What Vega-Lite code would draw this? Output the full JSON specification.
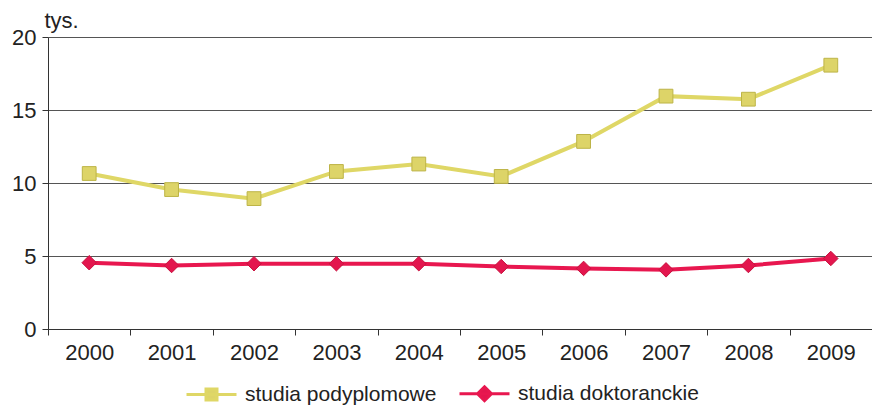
{
  "$schema": "https://vega.github.io/schema/vega-lite/v6.json",
  "width": 824,
  "height": 292,
  "autosize": {"type": "none"},
  "padding": {"left": 48, "top": 37, "right": 0, "bottom": 77},
  "background": "white",
  "config": {"view": {"stroke": null}, "font": "Liberation Sans"},
  "data": {"values": [
    {"year": "2000", "series": "studia podyplomowe", "value": 10.65},
    {"year": "2001", "series": "studia podyplomowe", "value": 9.55},
    {"year": "2002", "series": "studia podyplomowe", "value": 8.93},
    {"year": "2003", "series": "studia podyplomowe", "value": 10.79},
    {"year": "2004", "series": "studia podyplomowe", "value": 11.3},
    {"year": "2005", "series": "studia podyplomowe", "value": 10.45},
    {"year": "2006", "series": "studia podyplomowe", "value": 12.85},
    {"year": "2007", "series": "studia podyplomowe", "value": 15.95},
    {"year": "2008", "series": "studia podyplomowe", "value": 15.74},
    {"year": "2009", "series": "studia podyplomowe", "value": 18.07},
    {"year": "2000", "series": "studia doktoranckie", "value": 4.54},
    {"year": "2001", "series": "studia doktoranckie", "value": 4.35},
    {"year": "2002", "series": "studia doktoranckie", "value": 4.47},
    {"year": "2003", "series": "studia doktoranckie", "value": 4.47},
    {"year": "2004", "series": "studia doktoranckie", "value": 4.47},
    {"year": "2005", "series": "studia doktoranckie", "value": 4.28},
    {"year": "2006", "series": "studia doktoranckie", "value": 4.15},
    {"year": "2007", "series": "studia doktoranckie", "value": 4.05},
    {"year": "2008", "series": "studia doktoranckie", "value": 4.35},
    {"year": "2009", "series": "studia doktoranckie", "value": 4.83}
  ]},
  "encoding": {
    "x": {
      "field": "year", "type": "ordinal",
      "scale": {"type": "band", "paddingInner": 0, "paddingOuter": 0},
      "axis": {"title": null, "tickBand": "extent", "labelAngle": 0, "labelFontSize": 22, "labelColor": "#222", "tickSize": 6, "tickColor": "#333", "domainColor": "#333", "labelPadding": 7, "grid": false}
    },
    "y": {
      "field": "value", "type": "quantitative",
      "scale": {"domain": [0, 20]},
      "axis": {"values": [0, 5, 10, 15, 20], "grid": true, "gridColor": "#555", "gridWidth": 1, "gridOpacity": 1, "domainColor": "#333", "tickColor": "#333", "tickSize": 6, "labelFontSize": 22, "labelColor": "#222", "labelPadding": 6, "title": "tys.", "titleAngle": 0, "titleX": -4, "titleY": -10, "titleAlign": "left", "titleBaseline": "alphabetic", "titleFontSize": 22, "titleFontWeight": "normal", "titleColor": "#222"}
    }
  },
  "layer": [
    {
      "mark": {"type": "line", "strokeWidth": 4},
      "encoding": {
        "color": {
          "field": "series", "type": "nominal",
          "scale": {"domain": ["studia podyplomowe", "studia doktoranckie"], "range": ["#DFD766", "#E8174F"]},
          "legend": {
            "orient": "none", "legendX": 137, "legendY": 330, "direction": "horizontal",
            "title": null, "labelFontSize": 21, "labelColor": "#222", "labelFont": "Liberation Sans", "labelLimit": 400,
            "symbolSize": 2500, "symbolStrokeWidth": 3, "labelOffset": 7, "columnPadding": 16,
            "encode": {
              "symbols": {"update": {
                "shape": {"signal": "datum.value === 'studia podyplomowe' ? 'M-1,0H1M-0.22,-0.22H0.22V0.22H-0.22Z' : 'M-1,0H1M0,-0.28L0.28,0L0,0.28L-0.28,0Z'"},
                "fill": {"signal": "datum.value === 'studia podyplomowe' ? '#DDD468' : '#E3164E'"},
                "stroke": {"signal": "datum.value === 'studia podyplomowe' ? '#DFD766' : '#E8174F'"},
                "opacity": {"value": 1}
              }}
            }
          }
        }
      }
    },
    {
      "transform": [{"filter": "datum.series === 'studia podyplomowe'"}],
      "mark": {"type": "point", "shape": "square", "filled": true, "opacity": 1, "fill": "#DDD468", "stroke": "#BDB447", "strokeWidth": 1, "strokeOpacity": 1, "size": 190}
    },
    {
      "transform": [{"filter": "datum.series === 'studia doktoranckie'"}],
      "mark": {"type": "point", "shape": "diamond", "filled": true, "opacity": 1, "fill": "#E3164E", "stroke": "#C8123F", "strokeWidth": 1, "strokeOpacity": 1, "size": 210}
    }
  ]
}
